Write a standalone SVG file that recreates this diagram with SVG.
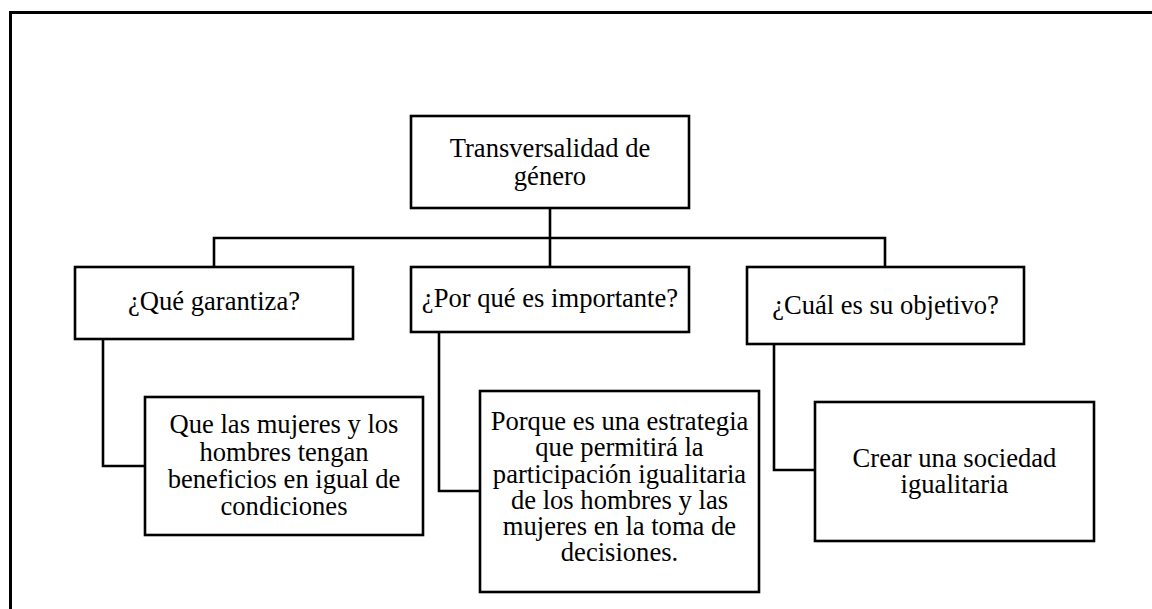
<svg xmlns="http://www.w3.org/2000/svg" width="1152" height="609" viewBox="0 0 1152 609">
<style>
.box{fill:#fff;stroke:#000;stroke-width:2.6}
.ln{fill:none;stroke:#000;stroke-width:2.6}
.t{font-family:"Liberation Serif","Times New Roman",serif;font-size:26.6px;fill:#000;text-anchor:middle}
</style>
<rect x="0" y="0" width="1152" height="609" fill="#fff"/>
<path d="M10.5 620 V12.5 H1160" fill="none" stroke="#000" stroke-width="3"/>
<g id="connectors">
<path class="ln" d="M550 208 V267"/>
<path class="ln" d="M214 267 V238 H885 V267"/>
<path class="ln" d="M103 339 V466 H145"/>
<path class="ln" d="M439 332 V491 H480"/>
<path class="ln" d="M774 344 V470 H815"/>
</g>
<g id="root">
<rect class="box" x="411" y="116" width="278" height="92"/>
<text class="t" x="550" y="157">Transversalidad de</text>
<text class="t" x="550" y="185">género</text>
</g>
<g id="q1">
<rect class="box" x="75" y="267" width="278" height="72"/>
<text class="t" x="214" y="310">¿Qué garantiza?</text>
</g>
<g id="q2">
<rect class="box" x="411" y="267" width="278" height="65"/>
<text class="t" x="550" y="307">¿Por qué es importante?</text>
</g>
<g id="q3">
<rect class="box" x="747" y="267" width="277" height="77"/>
<text class="t" x="885.5" y="314">¿Cuál es su objetivo?</text>
</g>
<g id="a1">
<rect class="box" x="145" y="397" width="278" height="138"/>
<text class="t" x="284" y="433">Que las mujeres y los</text>
<text class="t" x="284" y="461">hombres tengan</text>
<text class="t" x="284" y="488">beneficios en igual de</text>
<text class="t" x="284" y="515">condiciones</text>
</g>
<g id="a2">
<rect class="box" x="480" y="391" width="279" height="201"/>
<text class="t" x="619.5" y="430">Porque es una estrategia</text>
<text class="t" x="619.5" y="456">que permitirá la</text>
<text class="t" x="619.5" y="483">participación igualitaria</text>
<text class="t" x="619.5" y="509">de los hombres y las</text>
<text class="t" x="619.5" y="535">mujeres en la toma de</text>
<text class="t" x="619.5" y="561">decisiones.</text>
</g>
<g id="a3">
<rect class="box" x="815" y="402" width="279" height="139"/>
<text class="t" x="954.5" y="467">Crear una sociedad</text>
<text class="t" x="954.5" y="493">igualitaria</text>
</g>
</svg>
